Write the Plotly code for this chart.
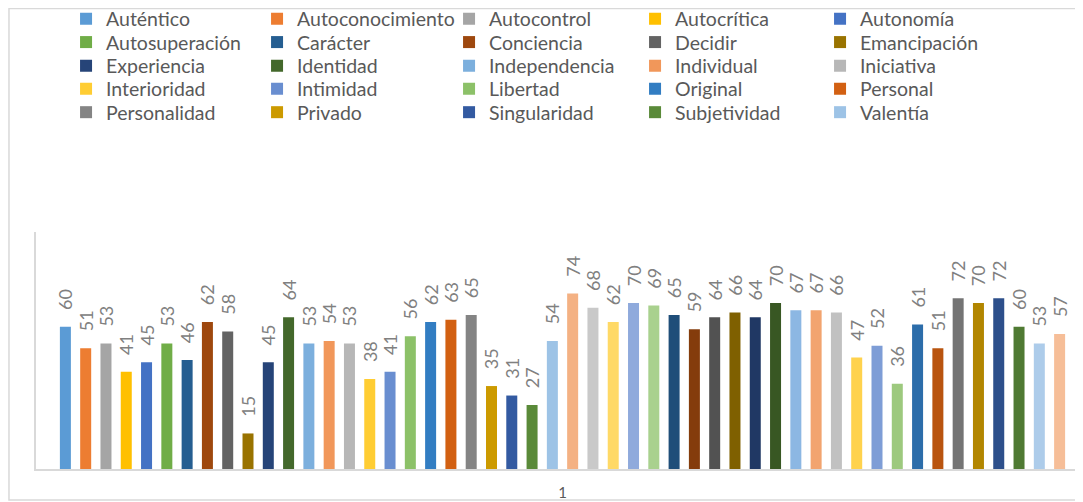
import plotly.graph_objects as go

category = ["1"]

legend_names = [
    "Auténtico", "Autoconocimiento", "Autocontrol", "Autocrítica", "Autonomía",
    "Autosuperación", "Carácter", "Conciencia", "Decidir", "Emancipación",
    "Experiencia", "Identidad", "Independencia", "Individual", "Iniciativa",
    "Interioridad", "Intimidad", "Libertad", "Original", "Personal",
    "Personalidad", "Privado", "Singularidad", "Subjetividad", "Valentía",
]
hidden_names = ["Serie %d" % i for i in range(26, 51)]
names = legend_names + hidden_names

values = [
    60, 51, 53, 41, 45, 53, 46, 62, 58, 15,
    45, 64, 53, 54, 53, 38, 41, 56, 62, 63,
    65, 35, 31, 27, 54, 74, 68, 62, 70, 69,
    65, 59, 64, 66, 64, 70, 67, 67, 66, 47,
    52, 36, 61, 51, 72, 70, 72, 60, 53, 57,
]

colors = [
    "#5B9BD5", "#ED7D31", "#A5A5A5", "#FFC000", "#4472C4",
    "#70AD47", "#255E91", "#9E480E", "#636363", "#997300",
    "#264478", "#43682B", "#7CAFDD", "#F1975A", "#B7B7B7",
    "#FFCD33", "#698ED0", "#8CC168", "#327DC2", "#D26012",
    "#848484", "#CC9A00", "#335AA1", "#5A8A39", "#9DC3E6",
    "#F4B183", "#C9C9C9", "#FFD966", "#8FAADC", "#A9D18E",
    "#1F4E79", "#843C0C", "#525252", "#7F6000", "#203864",
    "#385723", "#8CB7E3", "#F2A46F", "#C1C1C1", "#FFD24D",
    "#7E9DD6", "#9DC97E", "#2C6DAA", "#B9540F", "#747474",
    "#B28600", "#2D4F8B", "#4F7A33", "#ADCCEA", "#F6BE98",
]

FONT = "Lato"
legend_keys = ["legend", "legend2", "legend3", "legend4", "legend5"]
col_widths = [146, 147, 141, 140, 140]

fig = go.Figure()
for i, (n, v, c) in enumerate(zip(names, values, colors)):
    show = i < len(legend_names)
    fig.add_trace(go.Bar(
        x=category, y=[v], name=n,
        marker=dict(color=c, line=dict(width=0)),
        text=[v], texttemplate="\u00a0\u00a0\u00a0%{text}",
        textposition="outside", textangle=-90, constraintext="none",
        cliponaxis=False,
        textfont=dict(family=FONT, size=18, color="#808080"),
        showlegend=show,
        legend=legend_keys[i // 5] if show else "legend",
        legendwidth=col_widths[i % 5] if show else None,
    ))

row_y = [1.8987, 1.8, 1.7004, 1.6034, 1.5042]
legend_common = dict(
    orientation="h", x=0.0287, xanchor="left", yanchor="middle",
    font=dict(family=FONT, size=19.5, color="#595959"),
    bgcolor="rgba(0,0,0,0)", borderwidth=0, tracegroupgap=0,
    traceorder="normal",
)
layout_legends = {}
for r, key in enumerate(legend_keys):
    layout_legends[key] = dict(legend_common, y=row_y[r])

# page body has an 8px default margin: figure is sized/offset to fill the window
fig.update_layout(
    template="none",
    width=1075, height=494,
    margin=dict(l=28, r=0, t=224, b=33, pad=0, autoexpand=False),
    paper_bgcolor="white", plot_bgcolor="white",
    barmode="group", bargap=0.03656, bargroupgap=0.4579,
    font=dict(family=FONT, color="#595959"),
    xaxis=dict(
        type="category", range=[-0.5, 0.4943], automargin=False,
        showline=True, linecolor="#D9D9D9", linewidth=2,
        ticks="", showgrid=False, zeroline=False,
        tickfont=dict(family=FONT, size=15, color="#595959"),
        ticklabelstandoff=9,
    ),
    yaxis=dict(
        range=[0, 100], automargin=False,
        showline=True, linecolor="#D9D9D9", linewidth=1.5,
        showgrid=False, zeroline=False, showticklabels=False, ticks="",
    ),
    shapes=[dict(
        type="rect", xref="paper", yref="paper",
        x0=-0.0258, x1=1.02, y0=-0.1308, y1=1.943,
        line=dict(color="#D9D9D9", width=1.5), fillcolor="rgba(0,0,0,0)",
        layer="below",
    )],
    **layout_legends,
)

fig.write_html("out.html")
